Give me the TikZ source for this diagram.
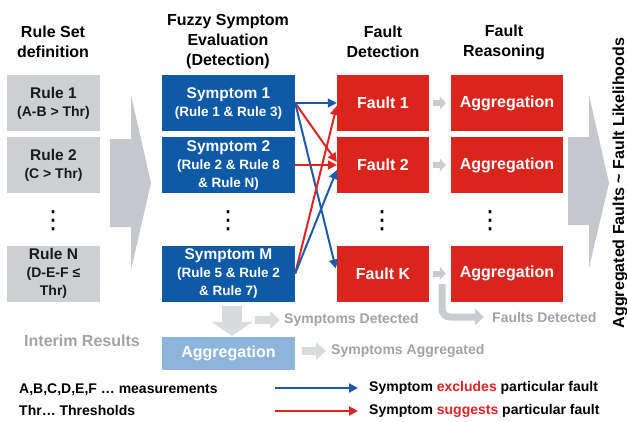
\documentclass[tikz,border=0pt]{standalone}
\usepackage{fontspec}
\setmainfont{Liberation Sans}
\newfontfamily\dejavu{DejaVu Sans}
\usetikzlibrary{arrows.meta}
\definecolor{symblue}{HTML}{0F5AA6}
\definecolor{faultred}{HTML}{DA251D}
\definecolor{rulegray}{HTML}{CDD0D3}
\definecolor{biggray}{HTML}{C4C8CC}
\definecolor{lightblue}{HTML}{8DB4DA}
\definecolor{graytext}{HTML}{A0A3A6}
\definecolor{smallgray}{HTML}{C8CCD0}
\definecolor{palegray}{HTML}{D8DBDE}
\definecolor{connblue}{HTML}{1E5AAA}
\definecolor{connred}{HTML}{E02323}
\newcommand\mainline{\bfseries\fontsize{15.5}{18}\selectfont}
\begin{document}
\begin{tikzpicture}[x=1pt,y=-1pt,
  hdr/.style={align=center, inner sep=0pt, font=\bfseries\fontsize{16}{20}\selectfont, text=black},
  rulebox/.style={fill=rulegray, minimum width=93pt, minimum height=56pt, inner sep=0pt, align=center, font=\bfseries\fontsize{14}{18}\selectfont, text=black!90},
  symbox/.style={fill=symblue, minimum width=133pt, minimum height=56pt, inner sep=0pt, align=center, font=\bfseries\fontsize{13.5}{18}\selectfont, text=white},
  faultbox/.style={fill=faultred, minimum width=92pt, minimum height=56pt, inner sep=0pt, align=center, font=\bfseries\fontsize{16}{18}\selectfont, text=white},
  aggbox/.style={fill=faultred, minimum width=112pt, minimum height=56pt, inner sep=0pt, align=center, font=\bfseries\fontsize{16}{18}\selectfont, text=white},
  dots/.style={inner sep=0pt, font=\dejavu\fontsize{25}{25}\selectfont},
  graytxt/.style={inner sep=0pt, anchor=west, text=graytext, font=\bfseries\fontsize{14}{16}\selectfont},
  legtxt/.style={inner sep=0pt, anchor=west, text=black, font=\bfseries\fontsize{14}{16}\selectfont},
  blueconn/.style={draw=connblue, line width=2pt, -{Triangle[length=9pt,width=9pt]}},
  redconn/.style={draw=connred, line width=2pt, -{Triangle[length=9pt,width=9pt]}},
  smallarrow/.style={draw=smallgray, line width=6pt, -{Triangle[length=6pt,width=13pt]}, shorten <=4pt, shorten >=5pt},
  palearrow/.style={draw=palegray, line width=8pt, -{Triangle[length=10pt,width=17pt]}}
]
\useasboundingbox (0,0) rectangle (627,421);
\fill[white] (0,0) rectangle (627,421);

% big gray arrows
\fill[biggray] (110,139) -- (131,139) -- (131,95) -- (151,183) -- (131,270) -- (131,227) -- (110,227) -- cycle;
\fill[biggray] (568,137) -- (589,137) -- (589,95) -- (609,183) -- (589,268) -- (589,225) -- (568,225) -- cycle;

% headers
\node[hdr] (h1) at (53,42) {Rule Set\\definition};
\node[hdr] (h2) at (228,42) {Fuzzy Symptom\\Evaluation\\(Detection)};
\node[hdr] (h3) at (383,42) {Fault\\Detection};
\node[hdr] (h4) at (504,42) {Fault\\Reasoning};

% rule boxes
\node[rulebox] (r1) at (53.5,103) {{\mainline Rule 1}\\(A-B > Thr)};
\node[rulebox] (r2) at (53.5,165) {{\mainline Rule 2}\\(C > Thr)};
\node[rulebox] (rn) at (53.5,273.5) {{\mainline Rule N}\\(D-E-F ≤\\Thr)};

% symptom boxes
\node[symbox] (s1) at (228.5,103) {{\mainline Symptom 1}\\(Rule 1 \& Rule 3)};
\node[symbox] (s2) at (228.5,165) {{\mainline Symptom 2}\\(Rule 2 \& Rule 8\\\& Rule N)};
\node[symbox] (sm) at (228.5,273.5) {{\mainline Symptom M}\\(Rule 5 \& Rule 2\\\& Rule 7)};

% fault boxes
\node[faultbox] (f1) at (383,103) {Fault 1};
\node[faultbox] (f2) at (383,165) {Fault 2};
\node[faultbox] (fk) at (383,273.5) {Fault K};

% aggregation boxes
\node[aggbox] (a1) at (507,103) {Aggregation};
\node[aggbox] (a2) at (507,165) {Aggregation};
\node[aggbox] (ak) at (507,273.5) {Aggregation};

% dots
\node[dots] (d1) at (53,221) {⋮};
\node[dots] (d2) at (228,221) {⋮};
\node[dots] (d3) at (382,221) {⋮};
\node[dots] (d4) at (490,221) {⋮};

% small arrows fault -> aggregation
\draw[smallarrow] (f1) -- (a1);
\draw[smallarrow] (f2) -- (a2);
\draw[smallarrow] (fk) -- (ak);

% connectors
\draw[blueconn] (s1.east) -- (f1.west);
\draw[redconn] (s1.east) -- ([yshift=3pt]f2.west);
\draw[blueconn] (s1.east) -- ([yshift=5pt,xshift=-1pt]fk.west);
\draw[redconn] (s2.east) -- (f2.west);
\draw[redconn] (sm.east) -- ([yshift=-3pt]f1.west);
\draw[blueconn] (sm.east) -- ([yshift=-5pt]f2.west);

% rotated text
\node[rotate=90, inner sep=0pt, font=\bfseries\fontsize{16}{18}\selectfont] (rt) at (620,183) {Aggregated Faults \textasciitilde{} Fault Likelihoods};

% interim results
\node[fill=lightblue, minimum width=133pt, minimum height=33pt, inner sep=0pt, text=white, font=\bfseries\fontsize{16}{18}\selectfont] (al) at (228.5,353.5) {Aggregation};
\draw[draw=palegray, line width=20pt, -{Triangle[length=14pt,width=40pt]}, shorten <=4pt, shorten >=1pt] ([xshift=3.5pt]sm.south) -- ([xshift=3.5pt]al.north);

\node[graytxt, font=\bfseries\fontsize{16}{16}\selectfont] (ir) at (24,341) {Interim Results};
\node[graytxt] (sdt) at (284,320) {Symptoms Detected};
\coordinate (sdstart) at (255,320);
\draw[palearrow, shorten >=4pt] (sdstart) -- (sdt.west);

\node[graytxt] (sat) at (331,351) {Symptoms Aggregated};
\draw[palearrow, shorten >=5pt] ([xshift=7pt]al.east |- sat.west) -- (sat.west);

\node[graytxt] (fdt) at (492,317) {Faults Detected};
\coordinate (fdstart) at (442,284);
\draw[draw=smallgray, line width=7pt, rounded corners=8pt, -{Triangle[length=9pt,width=16pt]}, shorten >=8pt] (fdstart) |- (fdt.west);

% legend
\node[legtxt] (l1) at (19,390) {A,B,C,D,E,F … measurements};
\node[legtxt] (l2) at (19,410) {Thr… Thresholds};
\node[legtxt] (l3) at (369,388) {Symptom {\color{connred}excludes} particular fault};
\node[legtxt] (l4) at (369,411) {Symptom {\color{connred}suggests} particular fault};
\coordinate (lb) at (275,388);
\coordinate (lr) at (275,411);
\draw[blueconn, line width=2.5pt, shorten >=11pt] (lb) -- (l3.west);
\draw[redconn, line width=2.5pt, shorten >=11pt] (lr) -- (l4.west);
\end{tikzpicture}
\end{document}
